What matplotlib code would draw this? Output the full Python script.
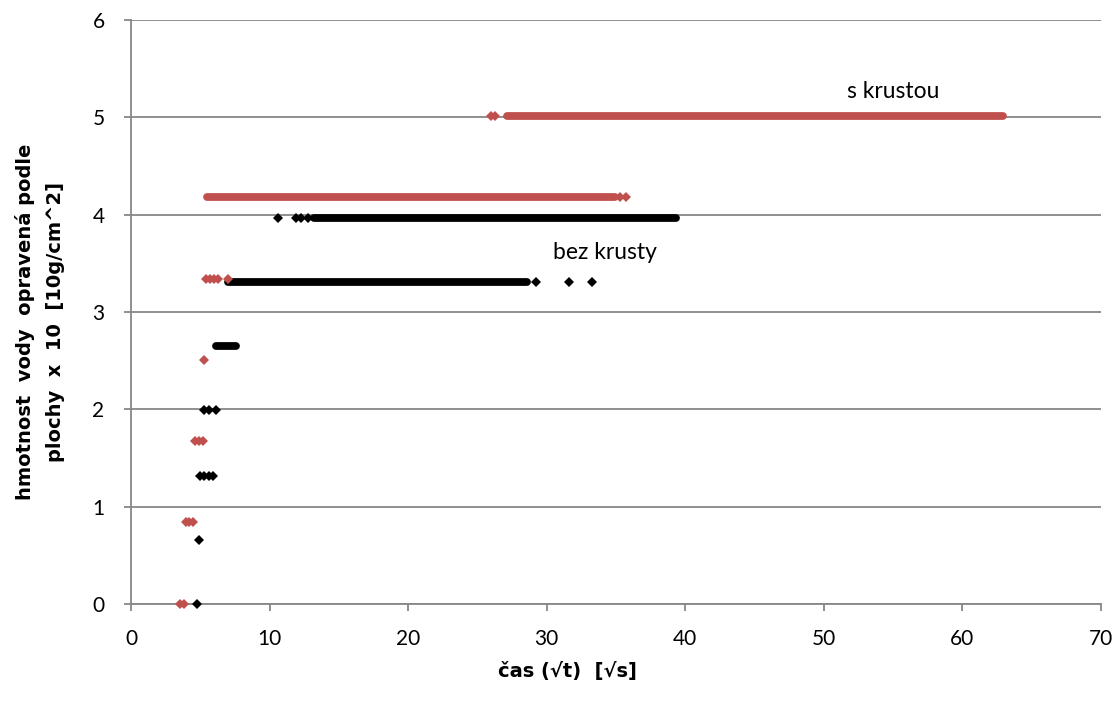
import matplotlib
matplotlib.use('Agg')
import matplotlib.pyplot as plt

# black series: "bez krusty" (without crust)
black_pts_x = [4.76, 4.9, 5.0, 5.3, 5.6, 5.9, 5.3, 5.6, 6.1,
               10.6, 11.9, 12.3, 12.8, 29.2, 31.6, 33.3]
black_pts_y = [0.0, 0.66, 1.32, 1.32, 1.32, 1.32, 1.99, 1.99, 1.99,
               3.97, 3.97, 3.97, 3.97, 3.31, 3.31, 3.31]
# dense runs of samples: level, first x, last x
black_run_y = [2.65, 3.31, 3.97]
black_run_x0 = [6.1, 7.0, 13.2]
black_run_x1 = [7.6, 28.6, 39.3]

# red series: "s krustou" (with crust)
red_pts_x = [3.5, 3.8, 4.0, 4.2, 4.5, 4.6, 4.9, 5.2, 5.27,
             5.4, 5.7, 6.0, 6.3, 7.0, 35.3, 35.7, 26.0, 26.3]
red_pts_y = [0.0, 0.0, 0.84, 0.84, 0.84, 1.67, 1.67, 1.67, 2.51,
             3.34, 3.34, 3.34, 3.34, 3.34, 4.18, 4.18, 5.01, 5.01]
red_run_y = [4.18, 5.01]
red_run_x0 = [5.5, 27.1]
red_run_x1 = [34.9, 62.9]

RED = '#C0504D'
GRAY = '#878787'

fig = plt.figure(figsize=(11.18, 7.13), dpi=100)
ax = fig.add_axes([131 / 1118, 1 - 604 / 713, 970 / 1118, 584 / 713])


def draw_series(xs, ys, ry, rx0, rx1, color):
    for y, x0, x1 in zip(ry, rx0, rx1):
        ax.plot([x0, x1], [y, y], color=color, lw=5.6,
                solid_capstyle='round', zorder=3, clip_on=False)
    ax.plot(xs, ys, 'D', color=color, ms=5.5, mew=0, zorder=3,
            clip_on=False)


draw_series(black_pts_x, black_pts_y, black_run_y, black_run_x0,
            black_run_x1, 'black')
draw_series(red_pts_x, red_pts_y, red_run_y, red_run_x0, red_run_x1, RED)

ax.set_xlim(0, 70)
ax.set_ylim(0, 6)
ax.set_xticks(range(0, 71, 10))
ax.set_yticks(range(0, 7))
ax.grid(axis='y', color=GRAY, lw=1.3)
ax.set_axisbelow(True)
for s in ['top', 'right']:
    ax.spines[s].set_visible(False)
for s in ['left', 'bottom']:
    ax.spines[s].set_color(GRAY)
    ax.spines[s].set_linewidth(1.3)
ax.tick_params(colors=GRAY, length=5, width=1.3, labelcolor='black',
               labelsize=15)
ax.tick_params(axis='x', pad=13)
ax.tick_params(axis='y', pad=14)
for lab in ax.get_xticklabels() + ax.get_yticklabels():
    lab.set_fontfamily('Lato')

ax.text(55.0, 5.27, 's krustou', fontsize=16.5, family='Lato',
        ha='center', va='center')
ax.text(34.2, 3.61, 'bez krusty', fontsize=16.5, family='Lato',
        ha='center', va='center')

fig.text(567 / 1118, 1 - 672 / 713, 'čas (√t)  [√s]', fontsize=14,
         fontweight='bold', family='Liberation Sans Narrow',
         ha='center', va='center')
fig.text(40 / 1118, 1 - 322 / 713,
         'hmotnost  vody  opravená podle\nplochy  x  10  [10g/cm^2]',
         fontsize=14, fontweight='bold', family='Liberation Sans Narrow',
         ha='center', va='center', rotation=90, linespacing=1.7)

fig.savefig('out.png', dpi=100)
